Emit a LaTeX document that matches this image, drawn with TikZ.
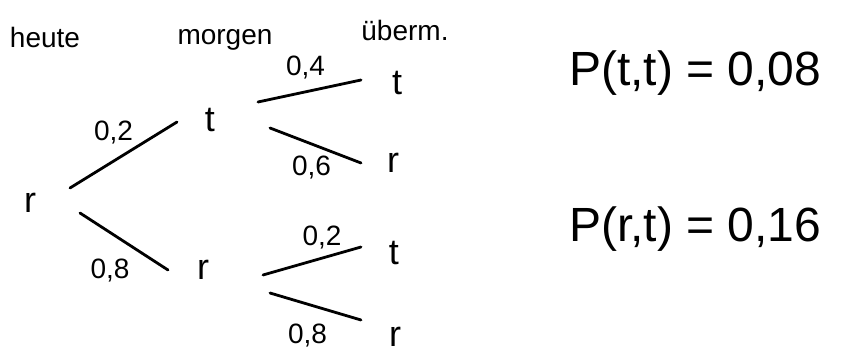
\documentclass[tikz,border=0pt]{standalone}
\usepackage{fontspec}
\setmainfont{Liberation Sans}
\usepackage{tikz}

\begin{document}
\begin{tikzpicture}[x=0.5pt, y=-0.5pt,
  head/.style={font=\fontsize{14}{16}\selectfont},
  state/.style={font=\fontsize{18}{20}\selectfont},
  prob/.style={font=\fontsize{14}{16}\selectfont, inner sep=2pt},
  res/.style={font=\fontsize{24}{28}\selectfont, anchor=west},
  branch/.style={line width=1.4pt, line cap=round}]
  \useasboundingbox (0,0) rectangle (843,358);
  % Tage
  \node[head] (h0) at (45,37) {heute};
  \node[head] (h1) at (225,40) {morgen};
  \node[head] (h2) at (405,30) {überm.};
  % Zustaende
  \node[state] (r0) at (30,203) {r};
  \node[state] (m1) at (210,120) {t};
  \node[state] (m2) at (203,270) {r};
  \node[state] (l1) at (397,83) {t};
  \node[state] (l2) at (393,163) {r};
  \node[state] (l3) at (394,253) {t};
  \node[state] (l4) at (395,337) {r};
  % Zweige
  \draw[branch] ([shift={(40,-15)}]r0.center) -- ([shift={(-33,2)}]m1.center)
    node[prob, midway, above=3pt, xshift=-5pt] {0,2};
  \draw[branch] ([shift={(50,10)}]r0.center) -- ([shift={(-35,0)}]m2.center)
    node[prob, midway, below=6pt, xshift=-7pt] {0,8};
  \draw[branch] ([shift={(48,-18)}]m1.center) -- ([shift={(-36,-3)}]l1.center)
    node[prob, midway, above=3.5pt, xshift=-2pt] {0,4};
  \draw[branch] ([shift={(60,8)}]m1.center) -- ([shift={(-32,0)}]l2.center)
    node[prob, midway, below=2.7pt, xshift=-2pt] {0,6};
  \draw[branch] ([shift={(60,5)}]m2.center) -- ([shift={(-33,-6)}]l3.center)
    node[prob, midway, above=3.5pt, xshift=5pt] {0,2};
  \draw[branch] ([shift={(67,23)}]m2.center) -- ([shift={(-34,-17)}]l4.center)
    node[prob, midway, below=6pt, xshift=-4pt] {0,8};
  % Ergebnisse
  \node[res] (ptt) at (562,73) {P(t,t) = 0,08};
  \node[res] (prt) at (562,229) {P(r,t) = 0,16};
\end{tikzpicture}
\end{document}
